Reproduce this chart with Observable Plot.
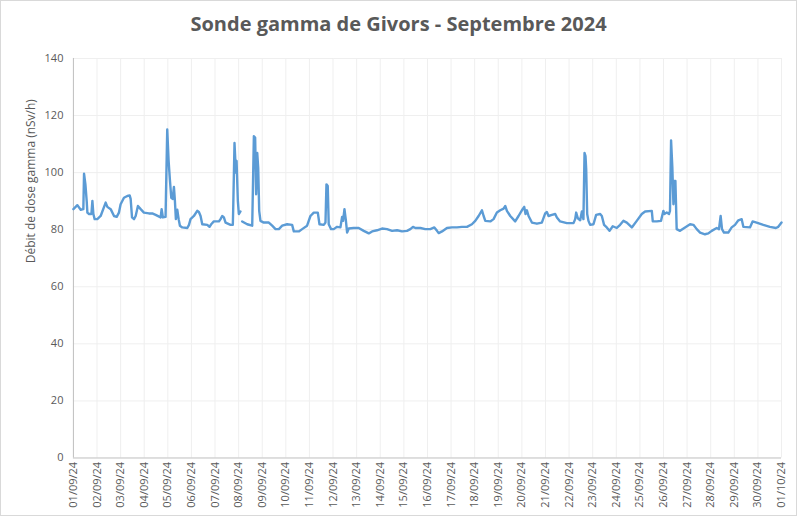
<!DOCTYPE html>
<html><head><meta charset="utf-8">
<script src="https://cdn.jsdelivr.net/npm/d3@7"></script>
<script src="https://cdn.jsdelivr.net/npm/@observablehq/plot@0.6"></script>
<style>
html,body{margin:0;padding:0;background:#fff;}
#chart{position:relative;width:797px;height:516px;box-sizing:border-box;border:1px solid #d9d9d9;overflow:hidden;font-family:"Open Sans",sans-serif;background:#fff;}
#title{position:absolute;top:9px;left:0;width:100%;text-align:center;font-weight:bold;font-size:20px;color:#595959;}
#plot{position:absolute;top:44px;left:-1px;}
</style></head><body>
<div id="chart"><div id="title"></div><div id="plot"></div></div>
<script>
const title = "Sonde gamma de Givors - Septembre 2024";
const yLabel = "Débit de dose gamma (nSv/h)";
const yTicks = [0, 20, 40, 60, 80, 100, 120, 140];
const startDate = "2024-09-01";
const endDate = "2024-10-01";
// hours since 01/09/24 00:00
const hours = [0,4.0,7.4,10.1,10.8,12.2,13.5,14.2,15.9,18.3,19.3,20.3,21.6,24.3,27.7,32.8,34.5,37.9,41.3,44.0,46.3,48.0,51.4,54.8,57.2,58.2,59.6,61.6,63.3,65.6,68.4,71.7,76.8,80.2,83.6,88.7,89.7,91.0,93.7,95.4,96.8,98.1,99.5,100.9,102.2,103.2,104.2,105.6,107.0,108.3,110.7,115.8,117.5,119.1,122.5,125.9,127.6,129.3,131.0,136.1,138.4,140.1,142.8,147.9,149.6,151.3,153.0,154.7,159.8,162.1,162.5,163.8,165.2,165.9,167.2,168.2,169.9,170.8,171.6,176.7,
181.8,183.5,184.8,185.8,186.9,187.9,188.9,190.2,193.6,198.7,202.1,205.5,208.9,212.3,217.3,222.4,224.1,229.2,232.6,237.6,241.0,244.4,248.5,250.2,254.6,256.3,257.3,258.6,259.6,262.0,264.7,268.1,271.5,273.2,274.2,275.6,276.9,278.3,280.0,285.0,290.1,295.2,300.3,303.7,308.7,313.8,318.9,324.0,329.1,334.1,339.2,342.6,345.3,347.7,352.8,357.8,362.9,
367.0,369.7,371.4,374.8,379.8,384.9,390.0,395.1,400.2,405.2,408.6,412.0,415.4,417.1,418.8,423.9,427.2,430.6,434.0,437.4,439.1,440.8,444.2,449.2,452.6,456.0,458.4,459.7,461.1,462.8,466.2,471.3,476.3,479.7,481.4,483.1,486.5,489.9,491.6,494.9,501.7,508.5,510.2,511.2,512.9,515.3,517.0,518.6,519.7,520.7,521.4,522.4,523.7,525.4,528.8,531.5,535.6,537.3,539.6,542.3,545.1,548.4,552.5,555.9,559.3,562.7,567.8,572.8,577.9,581.3,588.1,589.1,593.2,597.5,598.6,599.9,600.9,603.3,605.6,606.6,607.7,609.0,610.1,611.1,612.1,613.4,616.8,621.9,627.0,630.4,633.8,637.2,642.2,645.6,649.0,654.1,656.4,658.1,659.5,661.5,665.9,669.3,672.7,676.1,679.5,681.2,687.9,690.6,694.7,701.5,708.2,714.3,716.7,720];
const values = [87.2,88.6,87.0,87.2,99.6,95.9,90.1,86.0,85.5,85.5,90.1,85.5,83.7,83.7,84.8,89.5,88.0,87.2,84.8,84.5,86.0,88.9,91.2,91.8,92.0,90.8,84.3,83.7,84.8,88.3,87.2,86.0,85.7,85.7,85.2,84.3,87.2,84.3,84.5,115.1,104.1,97.6,91.2,90.8,95.0,90.1,83.7,87.0,83.7,81.4,80.8,80.6,81.7,83.7,84.8,86.6,86.2,84.8,81.9,81.7,81.0,81.9,82.9,82.9,83.7,84.8,84.3,82.5,81.7,81.7,87.7,110.4,100.0,104.1,90.1,85.5,86.4,null,82.9,81.9,
81.4,112.8,112.2,92.4,106.9,101.7,86.6,83.1,82.5,82.5,81.4,80.2,80.2,81.4,81.9,81.7,79.4,79.4,80.2,81.4,84.8,86.0,86.0,81.9,81.7,82.5,95.9,95.3,81.9,80.2,80.2,81.0,80.8,84.5,83.1,87.2,83.7,79.0,80.4,80.6,80.6,79.6,78.7,79.4,79.8,80.4,80.2,79.6,79.8,79.4,79.6,80.2,81.0,80.6,80.6,80.2,80.2,
80.8,79.6,78.8,79.4,80.6,80.8,80.8,81.0,81.0,81.9,83.1,84.8,86.8,84.8,83.1,82.9,83.7,86.0,86.8,87.4,88.3,86.6,84.8,82.9,84.8,86.8,88.0,85.5,86.8,84.8,82.5,82.1,82.5,85.7,86.2,84.8,85.2,85.5,84.3,82.9,82.3,82.3,83.7,86.0,84.0,83.3,86.4,83.7,106.9,105.8,101.2,85.5,83.1,81.7,81.9,85.2,85.5,84.8,81.7,80.8,79.6,81.2,80.6,81.7,83.1,82.5,80.8,83.1,85.5,86.4,86.6,82.9,82.9,83.1,84.8,86.6,85.5,86.0,85.5,86.6,111.3,101.7,88.9,97.1,97.1,80.2,79.6,80.8,81.9,81.7,80.2,79.0,78.4,78.7,79.6,80.6,80.2,84.8,80.2,79.0,79.0,80.8,81.7,83.3,83.7,81.0,80.8,82.9,82.5,81.7,81.0,80.6,81.0,82.5];

document.getElementById("title").textContent = title;
const t0 = new Date(startDate + "T00:00:00Z");
const t1 = new Date(endDate + "T00:00:00Z");
const data = hours.map((h, i) => ({date: new Date(t0.getTime() + h * 3600e3), value: values[i]}));
const dayTicks = d3.utcDay.range(t0, d3.utcDay.offset(t1, 1));

const chart = Plot.plot({
  width: 797,
  height: 472,
  marginTop: 13,
  marginBottom: 59,
  marginLeft: 73,
  marginRight: 15,
  style: {fontFamily: "'Open Sans', sans-serif", fontSize: "11px", color: "#595959", background: "#fff"},
  x: {type: "utc", domain: [t0, t1]},
  y: {domain: [0, 140]},
  marks: [
    Plot.ruleY(yTicks.filter(d => d > 0), {stroke: "#efefef", strokeWidth: 1, strokeOpacity: 1}),
    Plot.ruleX(dayTicks.slice(1), {stroke: "#efefef", strokeWidth: 1, strokeOpacity: 1}),
    Plot.ruleY([0], {stroke: "#bfbfbf", strokeWidth: 1}),
    Plot.ruleX([t0], {stroke: "#bfbfbf", strokeWidth: 1}),
    Plot.axisY({ticks: yTicks, tickSize: 0, tickPadding: 10, label: null, fill: "#595959"}),
    Plot.axisX({ticks: dayTicks, tickFormat: d3.utcFormat("%d/%m/%y"), tickRotate: -90, tickSize: 0, tickPadding: 4, label: null, fill: "#595959"}),
    Plot.text([yLabel], {frameAnchor: "left", dx: -42, dy: 5, rotate: -90, fontSize: 12, fill: "#595959"}),
    Plot.line(data, {x: "date", y: "value", stroke: "#5b9bd5", strokeWidth: 2.4, strokeLinejoin: "round"})
  ]
});
document.getElementById("plot").appendChild(chart);
</script>
</body></html>
